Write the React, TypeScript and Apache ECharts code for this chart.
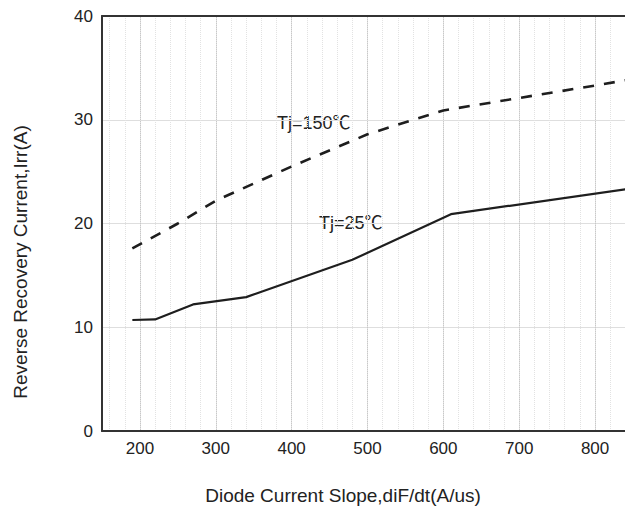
import React, { useEffect, useRef } from "react";
import * as echarts from "echarts";

// ---- data ----
const xLabelTicks = [200, 300, 400, 500, 600, 700, 800];
const yLabelTicks = [0, 10, 20, 30, 40];

const tj25X = [190, 220, 270, 340, 480, 610, 840];
const tj25Y = [10.7, 10.75, 12.2, 12.9, 16.5, 20.9, 23.3];

const tj150X = [190, 250, 300, 400, 500, 600, 700, 800, 840];
const tj150Y = [17.6, 20.0, 22.2, 25.5, 28.6, 30.9, 32.1, 33.3, 33.8];

const seriesNames = ["Tj=25℃", "Tj=150℃"];
const xTitle = "Diode Current Slope,diF/dt(A/us)";
const yTitle = "Reverse Recovery Current,Irr(A)";

const FONT = '"Liberation Sans", Arial, "Noto Sans CJK SC", sans-serif';

export default function App() {
  const ref = useRef<HTMLDivElement>(null);

  useEffect(() => {
    if (!ref.current) return;
    const chart = echarts.init(ref.current, undefined, { renderer: "svg" });

    const zip = (xs: number[], ys: number[]) => xs.map((x, i) => [x, ys[i]]);

    const option: any = {
      animation: false,
      backgroundColor: "#ffffff",
      textStyle: { fontFamily: FONT },
      grid: { left: 102, right: 17, top: 16, bottom: 75 },
      xAxis: [
        {
          type: "value",
          min: 150,
          max: 850,
          interval: 50,
          position: "bottom",
          axisLine: { show: true, onZero: false, lineStyle: { color: "#333", width: 2 } },
          axisTick: { show: false },
          axisLabel: {
            color: "#222",
            fontSize: 17,
            fontFamily: FONT,
            margin: 9,
            formatter: (v: number) =>
              xLabelTicks.includes(Math.round(v)) ? String(Math.round(v)) : "",
          },
          splitLine: {
            show: true,
            lineStyle: { color: ["rgba(0,0,0,0)", "#c8c8c8"], width: 1 },
          },
        },
        {
          type: "value",
          min: 150,
          max: 850,
          interval: 10,
          position: "top",
          axisLine: { show: true, onZero: false, lineStyle: { color: "#333", width: 2 } },
          axisTick: { show: false },
          axisLabel: { show: false },
          splitLine: {
            show: true,
            lineStyle: { color: ["rgba(0,0,0,0)", "#e2e2e2"], type: "dotted", width: 1 },
          },
        },
      ],
      yAxis: {
        type: "value",
        min: yLabelTicks[0],
        max: yLabelTicks[yLabelTicks.length - 1],
        interval: 10,
        axisLine: { show: true, lineStyle: { color: "#333", width: 2 } },
        axisTick: { show: false },
        axisLabel: { color: "#222", fontSize: 17, fontFamily: FONT, margin: 9 },
        splitLine: { show: true, lineStyle: { color: "#dedede", width: 1 } },
      },
      series: [
        {
          type: "line",
          name: seriesNames[0],
          data: zip(tj25X, tj25Y),
          symbol: "none",
          xAxisIndex: 0,
          lineStyle: { color: "#1e1e1e", width: 2.2 },
          z: 3,
        },
        {
          type: "line",
          name: seriesNames[1],
          data: zip(tj150X, tj150Y),
          symbol: "none",
          xAxisIndex: 0,
          lineStyle: { color: "#1e1e1e", width: 2.6, type: [11, 10] },
          z: 3,
        },
      ],
      graphic: [
        {
          type: "text",
          x: 277,
          y: 123,
          style: {
            text: seriesNames[1],
            fill: "#222",
            font: `18px ${FONT}`,
            verticalAlign: "middle",
            align: "left",
          },
        },
        {
          type: "text",
          x: 319,
          y: 223,
          style: {
            text: seriesNames[0],
            fill: "#222",
            font: `18px ${FONT}`,
            verticalAlign: "middle",
            align: "left",
          },
        },
        {
          type: "text",
          x: 343,
          y: 495,
          style: {
            text: xTitle,
            fill: "#222",
            font: `19px ${FONT}`,
            verticalAlign: "middle",
            align: "center",
          },
        },
        {
          type: "text",
          x: 20,
          y: 262,
          rotation: Math.PI / 2,
          style: {
            text: yTitle,
            fill: "#222",
            font: `19px ${FONT}`,
            verticalAlign: "middle",
            align: "center",
          },
        },
      ],
    };

    chart.setOption(option);
    return () => chart.dispose();
  }, []);

  return (
    <div
      style={{
        position: "absolute",
        left: 0,
        top: 0,
        width: 625,
        height: 506,
        overflow: "hidden",
        background: "#fff",
      }}
    >
      <div ref={ref} style={{ width: 650, height: 506 }} />
    </div>
  );
}
